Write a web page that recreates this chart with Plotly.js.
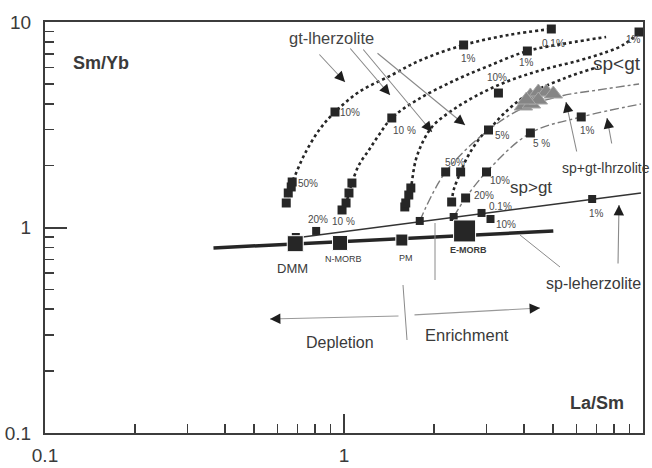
<!DOCTYPE html>
<html><head><meta charset="utf-8">
<script src="https://cdn.plot.ly/plotly-3.0.1.min.js"></script>
<style>html,body{margin:0;padding:0;background:#fff}#chart{width:652px;height:468px}</style>
</head><body><div id="chart"></div>
<script>
// ---- data (La/Sm vs Sm/Yb) ----
const sourceNames = ['DMM','N-MORB','PM','E-MORB'];
const sourceLaSm  = [0.687, 0.970, 1.561, 2.531];
const sourceSmYb  = [0.834, 0.841, 0.869, 0.962];

const mixLaSm = [0.366, 5.012];
const mixSmYb = [0.795, 0.962];

const spLaSm = [0.687, 9.847];
const spSmYb = [0.889, 1.472];
const spSqLaSm = [0.690, 0.807, 1.792, 2.327, 2.884, 3.090, 6.761];
const spSqSmYb = [0.899, 0.962, 1.076, 1.125, 1.177, 1.100, 1.376];

const gt1LaSm = [0.641,0.651,0.666,0.671,0.687,0.736,0.826,0.933,1.122,1.445,1.778,2.512,3.548,4.936];
const gt1SmYb = [1.316,1.472,1.575,1.665,1.801,2.253,2.982,3.648,4.564,5.522,6.459,7.729,8.645,9.246];
const gt1SqLaSm = [0.641,0.651,0.666,0.671,0.933,2.512,4.936];
const gt1SqSmYb = [1.316,1.472,1.575,1.665,3.648,7.729,9.246];

const gt2LaSm = [0.985,1.016,1.039,1.063,1.122,1.212,1.308,1.445,1.778,2.362,3.043,4.105,5.623,7.527];
const gt2SmYb = [1.217,1.316,1.472,1.646,2.014,2.384,2.819,3.411,4.220,5.222,6.107,7.225,7.903,8.453];
const gt2SqLaSm = [0.985,1.016,1.039,1.063,1.445,4.105];
const gt2SqSmYb = [1.217,1.316,1.472,1.646,3.411,7.225];

const gt3LaSm = [1.597,1.609,1.647,1.673,1.738,1.848,1.995,2.362,2.884,3.548,4.467,6.708,8.577,9.698];
const gt3SmYb = [1.259,1.316,1.439,1.557,2.131,2.666,3.154,3.815,4.512,5.163,5.775,6.755,7.729,8.940];
const gt3SqLaSm = [1.597,1.609,1.647,1.673,3.285,9.698];
const gt3SqSmYb = [1.259,1.316,1.439,1.557,4.512,8.940];

const gt4LaSm = [2.291,2.327,2.455,2.610,2.884,3.043,3.415,4.044,5.495,7.079];
const gt4SmYb = [1.331,1.522,1.863,2.253,2.788,2.982,3.566,4.365,5.340,6.039];
const gt4SqLaSm = [2.291,2.455,3.043];
const gt4SqSmYb = [1.331,1.863,2.982];

const spgt1LaSm = [1.792,2.188,3.043,3.981,5.330,7.079,9.698];
const spgt1SmYb = [1.076,1.863,2.982,3.815,4.365,4.668,4.992];
const spgt1SqLaSm = [2.188];
const spgt1SqSmYb = [1.863];

const spgt2LaSm = [2.327,2.551,2.996,4.201,6.215,9.847];
const spgt2SmYb = [1.125,1.392,1.863,2.884,3.451,3.990];
const spgt2SqLaSm = [2.551,2.996,4.201,6.215];
const spgt2SqSmYb = [1.392,1.863,2.884,3.451];

const sampleLaSm = [4.201,4.467,4.750,5.012,3.981,4.233,4.467,4.074];
const sampleSmYb = [4.365,4.564,4.564,4.462,3.901,3.990,4.172,4.172];

const tickVals = [0.1, 1, 10];
const tickText = ['0.1', '1', '10'];
const minorVals = [0.2,0.3,0.4,0.5,0.6,0.7,0.8,0.9,2,3,4,5,6,7,8,9];

// ---- styling ----
const FONT = 'Liberation Sans Narrow, Arial Narrow, Liberation Sans, Arial, sans-serif';
const INK = '#262626';
function dotted(x,y){return {x:x,y:y,mode:'lines',type:'scatter',line:{color:INK,width:2.6,dash:'dot',shape:'spline'},hoverinfo:'skip'};}
function dashdot(x,y){return {x:x,y:y,mode:'lines',type:'scatter',line:{color:'#7a7a7a',width:1.4,dash:'dashdot',shape:'spline'},hoverinfo:'skip'};}
function squares(x,y,s){return {x:x,y:y,mode:'markers',type:'scatter',marker:{symbol:'square',size:s||9,color:INK,opacity:1},hoverinfo:'skip'};}

const traces = [
  {x:mixLaSm,y:mixSmYb,mode:'lines',type:'scatter',line:{color:INK,width:3.5}},
  {x:spLaSm,y:spSmYb,mode:'lines',type:'scatter',line:{color:'#333',width:1.6}},
  dotted(gt1LaSm,gt1SmYb), dotted(gt2LaSm,gt2SmYb), dotted(gt3LaSm,gt3SmYb), dotted(gt4LaSm,gt4SmYb),
  dashdot(spgt1LaSm,spgt1SmYb), dashdot(spgt2LaSm,spgt2SmYb),
  squares(gt1SqLaSm,gt1SqSmYb), squares(gt2SqLaSm,gt2SqSmYb), squares(gt3SqLaSm,gt3SqSmYb),
  squares(gt4SqLaSm,gt4SqSmYb), squares(spgt1SqLaSm,spgt1SqSmYb), squares(spgt2SqLaSm,spgt2SqSmYb),
  squares(spSqLaSm,spSqSmYb,8),
  {x:sampleLaSm,y:sampleSmYb,mode:'markers',type:'scatter',marker:{symbol:'triangle-up',size:16,color:'#858585',opacity:1,line:{color:'#a8a8a8',width:1}}},
  {x:sourceLaSm,y:sourceSmYb,text:sourceNames,mode:'markers',type:'scatter',marker:{symbol:'square',size:[16,15,12,22],color:INK,opacity:1}}
];

// pixel -> paper helpers for annotations
function P(px,py){return {x:(px-45)/598, y:(433-py)/411, xref:'paper', yref:'paper'};}
function T(px,py,text,size,opt){
  return Object.assign(P(px,py),{text:text,showarrow:false,xanchor:'center',yanchor:'middle',
    font:Object.assign({family:FONT,size:size,color:'#3a3a3a'},opt||{})});
}
// grey pointer line plus a dark triangular head
function A(hx,hy,tx,ty,col){
  const dx=tx-hx, dy=ty-hy, L=Math.sqrt(dx*dx+dy*dy), k=11/L;
  return [
    Object.assign(P(hx,hy),{text:'',showarrow:true,ax:dx,ay:dy,arrowhead:0,arrowwidth:1.1,arrowcolor:col||'#8a8a8a'}),
    Object.assign(P(hx,hy),{text:'',showarrow:true,ax:dx*k,ay:dy*k,arrowhead:2,arrowsize:1.6,arrowwidth:1.3,arrowcolor:'#1e1e1e'})
  ];
}

const pct = (px,py,t)=>T(px,py,t,10,{color:'#4a4a4a'});
const annotations = [
  T(101,63,'<b>Sm/Yb</b>',18), T(597,403,'<b>La/Sm</b>',18),
  T(331,38,'gt-lherzolite',16.5,{color:'#444'}),
  T(617,64,'sp&lt;gt',19), T(531,188,'sp&gt;gt',17),
  T(606,168,'sp+gt-lhrzolite',14), T(593,283,'sp-leherzolite',16),
  T(340,342,'Depletion',16), T(467,335,'Enrichment',16.5),
  T(292,268,'DMM',13), T(343,259,'N-MORB',9), T(406,258,'PM',9), T(468,250,'<b>E-MORB</b>',9),
  pct(308,184,'50%'), pct(350,113,'10%'), pct(468,58,'1%'), pct(553,43,'0.1%'),
  pct(404,130,'10 %'), pct(526,62,'1%'), pct(497,78,'10%'), pct(633,40,'1%'),
  pct(502,135,'5%'), pct(455,162,'50%'), pct(541,143,'5 %'), pct(587,130,'1%'),
  pct(500,180,'10%'), pct(484,195,'20%'), pct(500,206,'0.1%'), pct(506,225,'10%'),
  pct(318,219,'20%'), pct(343,222,'10 %'), pct(596,213,'1%')
].concat(
  A(345,82,318,53), A(390,95,349,47), A(432,132,362,48), A(465,125,376,52),
  A(566,102,577,153), A(607,118,612,145), A(619,205,618,265),
  A(270,319,400,316,'#999'), A(540,308,413,315,'#999')
);

const shapes = [
  [435,223,435,280],[403,285,407,340],[520,235,560,267]
].map(s=>({type:'line',xref:'paper',yref:'paper',x0:(s[0]-45)/598,y0:(433-s[1])/411,x1:(s[2]-45)/598,y1:(433-s[3])/411,line:{color:'#8a8a8a',width:1}}));

function axis(major,standoff){
  return {type:'log',range:[-1,1],showline:true,mirror:true,linecolor:'#3c3c3c',linewidth:2,
    showgrid:false,zeroline:false,tickmode:'array',tickvals:tickVals,ticktext:tickText,
    ticks:'inside',ticklen:major,tickwidth:2,tickcolor:'#3c3c3c',ticklabelstandoff:standoff,
    tickfont:{family:FONT,size:19,color:'#3a3a3a'},
    minor:{tickmode:'array',tickvals:minorVals,ticks:'inside',ticklen:9,tickwidth:1.6,tickcolor:'#3c3c3c',showgrid:false}};
}
const layout = {
  width:652,height:468,margin:{l:45,r:9,t:22,b:35},showlegend:false,
  paper_bgcolor:'#ffffff',plot_bgcolor:'#ffffff',
  xaxis:axis(19,4),yaxis:axis(22,8),annotations:annotations,shapes:shapes
};
Plotly.newPlot('chart',traces,layout,{staticPlot:true});
</script></body></html>
